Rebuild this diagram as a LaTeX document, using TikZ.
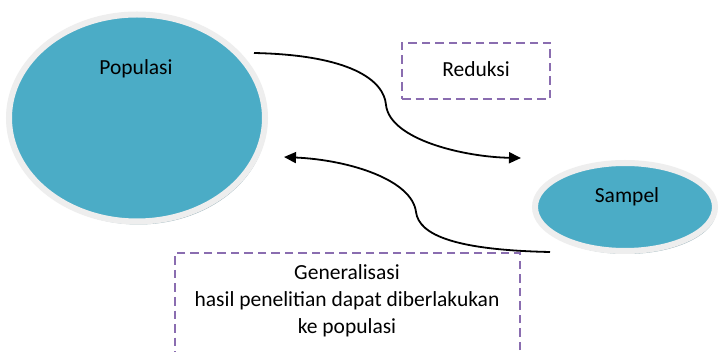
\documentclass[tikz,border=0pt]{standalone}
\usepackage{fontspec}
\setmainfont{Carlito}
\usetikzlibrary{shapes.geometric,shadows,arrows.meta}
\definecolor{tealfill}{HTML}{4BACC6}
\definecolor{rimcol}{HTML}{EEEEEE}
\definecolor{shadecol}{HTML}{8FAAB3}
\definecolor{dashcol}{HTML}{8A6DB0}
\tikzset{
  blob/.style={ellipse, fill=tealfill, draw=rimcol, line width=6pt,
    drop shadow={shadow xshift=1.5pt, shadow yshift=-3pt, fill=shadecol, opacity=0.9}},
  dashbox/.style={draw=dashcol, line width=2.4pt, dash pattern=on 8.5pt off 5pt},
  label/.style={font=\fontsize{21.5}{27}\selectfont, align=center, inner sep=0pt},
  flow/.style={line width=1.8pt, -{Triangle[length=12pt,width=11pt]}},
}
\begin{document}
\begin{tikzpicture}[x=1pt,y=-1pt]
  \clip (0,0) rectangle (719,352);
  \fill[white] (0,0) rectangle (719,352);

  % the two sets
  \node[blob, minimum width=256pt, minimum height=207pt] (pop) at (137,118) {};
  \node[blob, minimum width=180pt, minimum height=88pt] (smp) at (625,207) {};
  \node[label] (poptext) at (136,69) {Populasi};
  \node[label] (smptext) at (627,197) {Sampel};

  % explanatory boxes
  \node[dashbox, minimum width=148pt, minimum height=56pt] (redbox) at (476,71) {};
  \node[label] (redtext) at (476,69) {Reduksi};
  \node[dashbox, minimum width=345pt, minimum height=130pt] (genbox) at (347.5,318) {};
  \node[label] (gentext) at (347,301) {Generalisasi\\hasil penelitian dapat diberlakukan\\ke populasi};

  % connector end points
  \coordinate (redstart) at (254,53);
  \coordinate (redend) at (521,158);
  \coordinate (genstart) at (550,252);
  \coordinate (genend) at (284,157);

  % reduction: population to sample
  \draw[flow] (redstart) .. controls (350,55) and (384,80) .. (386,105)
    .. controls (390,140) and (465,157) .. (redend);
  % generalisation: sample back to population
  \draw[flow] (genstart) .. controls (455,250) and (419,235) .. (416,212)
    .. controls (412,180) and (350,160) .. (genend);
\end{tikzpicture}
\end{document}
